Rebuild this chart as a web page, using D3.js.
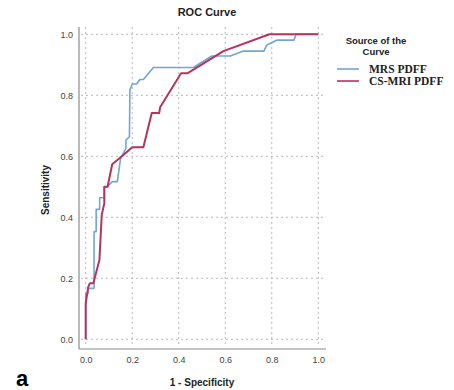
<!DOCTYPE html>
<html>
<head>
<meta charset="utf-8">
<script src="https://cdn.jsdelivr.net/npm/d3@7"></script>
<style>
  body { margin: 0; background: #fff; }
  svg { display: block; font-family: "Liberation Sans", Arial, sans-serif; }
</style>
</head>
<body>
<svg id="chart" width="454" height="390"></svg>
<script>
// ROC points: [1 - specificity, sensitivity]
const mrsPdff = [
  [0, 0], [0, 0.15], [0.01, 0.15], [0.01, 0.167], [0.036, 0.167], [0.036, 0.353],
  [0.045, 0.353], [0.045, 0.426], [0.06, 0.426], [0.06, 0.464], [0.08, 0.464],
  [0.08, 0.5], [0.093, 0.5], [0.114, 0.517], [0.136, 0.517], [0.15, 0.593],
  [0.173, 0.626], [0.173, 0.653], [0.188, 0.664], [0.19, 0.817], [0.2, 0.837],
  [0.219, 0.837], [0.233, 0.852], [0.248, 0.852], [0.291, 0.891], [0.463, 0.891],
  [0.542, 0.929], [0.622, 0.929], [0.678, 0.945], [0.766, 0.945], [0.779, 0.965],
  [0.823, 0.981], [0.895, 0.981], [0.905, 1], [1, 1],
];
const csMriPdff = [
  [0, 0], [0, 0.118], [0.011, 0.172], [0.018, 0.184], [0.033, 0.184], [0.059, 0.26],
  [0.069, 0.408], [0.08, 0.446], [0.08, 0.5], [0.094, 0.5], [0.114, 0.574],
  [0.162, 0.604], [0.2, 0.63], [0.248, 0.63], [0.284, 0.742], [0.316, 0.742],
  [0.32, 0.761], [0.41, 0.872], [0.437, 0.872], [0.592, 0.945], [0.79, 1], [1, 1],
];
const seriesNames = ['MRS PDFF', 'CS-MRI PDFF'];
const seriesColors = ['#72a5d8', '#b8335c'];
const xTicks = [0, 0.2, 0.4, 0.6, 0.8, 1.0];
const yTicks = [0, 0.2, 0.4, 0.6, 0.8, 1.0];

const svg = d3.select('#chart');

/* scales: 0..1 maps to the dotted grid, axis lines sit a little outside */
const x = d3.scaleLinear().domain([0, 1]).range([85.7, 318.3]);
const y = d3.scaleLinear().domain([0, 1]).range([339.3, 34.3]);
const frame = { left: 79, right: 326, top: 27, bottom: 349 };

/* dotted grid */
const grid = svg.append('g').attr('stroke', '#b9b9b9').attr('stroke-width', 1)
  .attr('stroke-dasharray', '2,3');
grid.selectAll('.vg').data(xTicks).join('line')
  .attr('x1', (d) => x(d)).attr('x2', (d) => x(d))
  .attr('y1', frame.top).attr('y2', frame.bottom - 2);
grid.selectAll('.hg').data(yTicks).join('line')
  .attr('y1', (d) => y(d)).attr('y2', (d) => y(d))
  .attr('x1', frame.left + 2).attr('x2', frame.right);

/* axes */
const xAxis = d3.axisBottom(x).tickValues(xTicks).tickFormat(d3.format('.1f'))
  .tickSize(0).tickPadding(8);
const yAxis = d3.axisLeft(y).tickValues(yTicks).tickFormat(d3.format('.1f'))
  .tickSize(0).tickPadding(6);

const gx = svg.append('g').attr('transform', `translate(0,${frame.bottom})`).call(xAxis);
gx.select('.domain').remove();
const gy = svg.append('g').attr('transform', `translate(${frame.left},0)`).call(yAxis);
gy.select('.domain').remove();
svg.selectAll('.tick text').attr('font-size', 9).attr('fill', '#444')
  .attr('font-family', '"Liberation Sans", Arial, sans-serif');

svg.append('line').attr('x1', frame.left).attr('x2', frame.left)
  .attr('y1', frame.top).attr('y2', frame.bottom)
  .attr('stroke', '#8a8a8a').attr('stroke-width', 1.2);
svg.append('line').attr('x1', frame.left).attr('x2', frame.right)
  .attr('y1', frame.bottom).attr('y2', frame.bottom)
  .attr('stroke', '#8a8a8a').attr('stroke-width', 1.2);

/* curves */
const line = d3.line().x((d) => x(d[0])).y((d) => y(d[1]));
[mrsPdff, csMriPdff].forEach((pts, i) => {
  svg.append('path').datum(pts)
    .attr('d', line)
    .attr('fill', 'none')
    .attr('stroke', seriesColors[i])
    .attr('stroke-width', i === 0 ? 1.6 : 2)
    .attr('stroke-linejoin', 'round');
});

/* titles */
svg.append('text').attr('x', 207).attr('y', 16).attr('text-anchor', 'middle')
  .attr('font-size', 11).attr('font-weight', 'bold').attr('fill', '#222')
  .text('ROC Curve');
svg.append('text').attr('transform', 'translate(49,190) rotate(-90)')
  .attr('text-anchor', 'middle').attr('font-size', 10).attr('font-weight', 'bold')
  .attr('fill', '#222').text('Sensitivity');
svg.append('text').attr('x', 202).attr('y', 386).attr('text-anchor', 'middle')
  .attr('font-size', 10).attr('font-weight', 'bold').attr('fill', '#222')
  .text('1 - Specificity');
svg.append('text').attr('x', 22).attr('y', 386).attr('text-anchor', 'middle')
  .attr('font-size', 22).attr('font-weight', 'bold').attr('fill', '#000')
  .text('a');

/* legend */
const legend = svg.append('g');
legend.append('text').attr('x', 376).attr('y', 44).attr('text-anchor', 'middle')
  .attr('font-size', 9.5).attr('font-weight', 'bold').attr('fill', '#222')
  .text('Source of the');
legend.append('text').attr('x', 376).attr('y', 55).attr('text-anchor', 'middle')
  .attr('font-size', 9.5).attr('font-weight', 'bold').attr('fill', '#222')
  .text('Curve');
seriesNames.forEach((name, i) => {
  const ly = 69 + i * 12;
  legend.append('line').attr('x1', 337).attr('x2', 359).attr('y1', ly).attr('y2', ly)
    .attr('stroke', seriesColors[i]).attr('stroke-width', 1.6);
  legend.append('text').attr('x', 369).attr('y', ly + 4)
    .attr('font-family', '"Liberation Serif", "Times New Roman", serif')
    .attr('font-size', 11.5).attr('font-weight', 'bold').attr('fill', '#222')
    .text(name);
});
</script>
</body>
</html>
